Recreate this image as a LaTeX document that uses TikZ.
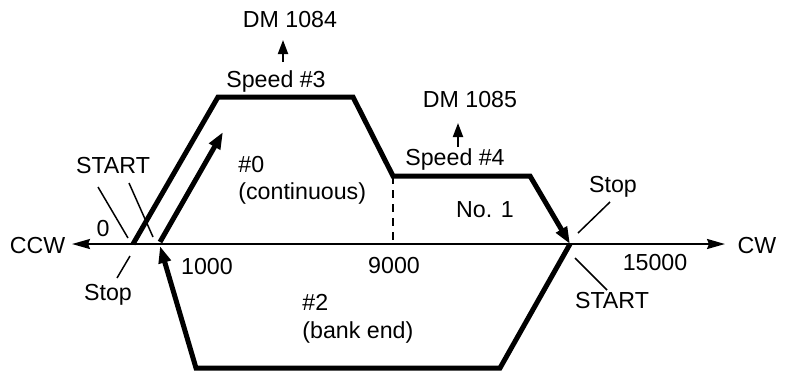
\documentclass[tikz,border=0pt]{standalone}
\usepackage{fontspec}
\setmainfont{Liberation Sans}
\usetikzlibrary{arrows.meta}
\begin{document}
\begin{tikzpicture}[x=0.5pt,y=-0.5pt,
  lbl/.style={inner sep=0pt, anchor=base, font=\fontsize{11.6}{13}\selectfont},
  lbll/.style={lbl, anchor=base west},
  prof/.style={line width=2.5pt, line join=miter, line cap=butt},
  axisline/.style={line width=1pt},
  tickline/.style={line width=0.75pt},
  bigtip/.style={-{Triangle[length=8.5pt,width=6pt]}},
  axtip/.style={{Stealth[length=9pt,width=5pt,inset=1pt]}-{Stealth[length=9pt,width=5pt,inset=1pt]}},
  smalltip/.style={line width=1pt, -{Triangle[length=7pt,width=5pt]}}]
\useasboundingbox (0,0) rectangle (785,372);

% coordinates
\coordinate (ccwtip) at (72,244);
\coordinate (cwtip) at (725,244);
\coordinate (p0) at (133,244);
\coordinate (p1) at (218,97);
\coordinate (p2) at (353,97);
\coordinate (p3) at (393,176);
\coordinate (p4) at (530,176);
\coordinate (p5) at (570,244);
\coordinate (q0) at (160,242);
\coordinate (q1) at (223,132);
\coordinate (r1) at (500,368);
\coordinate (r2) at (196,368);
\coordinate (r3) at (160,246);
\coordinate (d9) at (393,244);
\coordinate (a3s) at (283,62);
\coordinate (a3e) at (283,40);
\coordinate (a4s) at (458,147);
\coordinate (a4e) at (458,123);
\coordinate (t1a) at (98,187);  \coordinate (t1b) at (128,238);
\coordinate (t2a) at (129,183); \coordinate (t2b) at (153,237);
\coordinate (t3a) at (130,256); \coordinate (t3b) at (117,278);
\coordinate (t4a) at (610,202); \coordinate (t4b) at (578,233);
\coordinate (t5a) at (575,258); \coordinate (t5b) at (607,290);

% axis
\draw[axisline, axtip] (ccwtip) -- (cwtip);
% dashed 9000
\draw[line width=1pt, dash pattern=on 4pt off 3pt] (p3) -- (d9);
% profile No.1
\draw[prof, bigtip] (p0) -- (p1) -- (p2) -- (p3) -- (p4) -- (p5);
% profile #0
\draw[prof, bigtip] (q0) -- (q1);
% profile #2
\draw[prof, bigtip] (p5) -- (r1) -- (r2) -- (r3);
% DM arrows
\draw[smalltip] (a3s) -- (a3e);
\draw[smalltip] (a4s) -- (a4e);
% pointer lines
\draw[tickline] (t1a) -- (t1b);
\draw[tickline] (t2a) -- (t2b);
\draw[tickline] (t3a) -- (t3b);
\draw[tickline] (t4a) -- (t4b);
\draw[tickline] (t5a) -- (t5b);

% labels
\node[lbl] (ccw) at (37.5,253) {CCW};
\node[lbl] (cw) at (757,253) {CW};
\node[lbl] (zero) at (103,236) {0};
\node[lbl] (n1000) at (207,274) {1000};
\node[lbl] (n9000) at (394,273) {9000};
\node[lbl] (n15000) at (655,270) {15000};
\node[lbl] (startl) at (113,173) {START};
\node[lbl] (stopl) at (108,300) {Stop};
\node[lbl] (stopr) at (613,192) {Stop};
\node[lbl] (startr) at (612,308) {START};
\node[lbl] (dm1084) at (290,27) {DM 1084};
\node[lbl] (sp3) at (276,87) {Speed \#3};
\node[lbl] (dm1085) at (470,107) {DM 1085};
\node[lbl] (sp4) at (455,165) {Speed \#4};
\node[lbll] (h0) at (238,172) {\#0};
\node[lbll] (cont) at (238,199) {(continuous)};
\node[lbl] (no1) at (485,217) {No. 1};
\node[lbll] (h2) at (302,310) {\#2};
\node[lbll] (bank) at (302,338) {(bank end)};
\end{tikzpicture}
\end{document}
